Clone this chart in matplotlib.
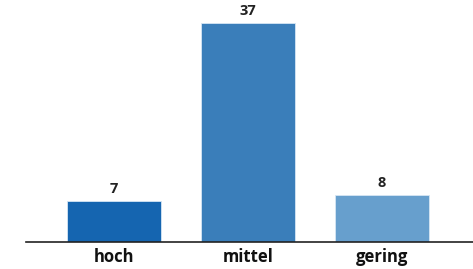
import matplotlib.pyplot as plt

# Data
categories = ["hoch", "mittel", "gering"]
values = [7, 37, 8]
colors = ["#1565B0", "#3A7EBA", "#679FCD"]

fig = plt.figure(figsize=(4.73, 2.69), dpi=100)
ax = fig.add_axes([26 / 473, 27 / 269, 1 - 26 / 473, 1 - 27 / 269])

x = range(len(categories))
bars = ax.bar(x, values, width=0.70, color=colors, edgecolor="#d6e6f4", linewidth=0.6)

for b, v in zip(bars, values):
    ax.text(b.get_x() + b.get_width() / 2, v + 0.8, str(v),
            ha="center", va="bottom", fontsize=10.5, fontweight="bold",
            family="Open Sans", color="#222222")

ax.set_xlim(-0.657, 2.68)
ax.set_ylim(0, 40.9)
ax.set_xticks(list(x))
ax.set_xticklabels(categories, fontsize=12, fontweight="bold", family="Open Sans", color="#111111")
ax.tick_params(axis="x", length=0, pad=4)
ax.set_yticks([])

for s in ["top", "right", "left"]:
    ax.spines[s].set_visible(False)
ax.spines["bottom"].set_linewidth(1.2)
ax.spines["bottom"].set_color("#222222")

plt.savefig("out.png", dpi=100)
